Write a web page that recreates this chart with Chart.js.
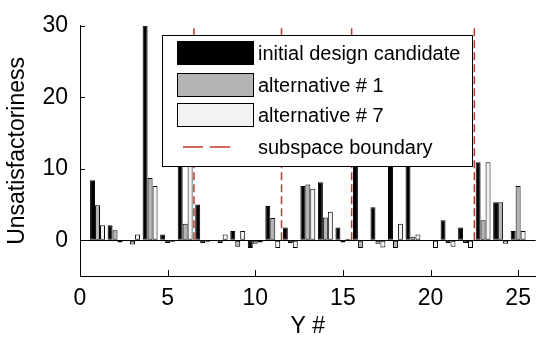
<!DOCTYPE html>
<html lang="en">
<head>
  <meta charset="UTF-8" />
  <title>Unsatisfactoriness per Y</title>
  <script src="https://cdn.jsdelivr.net/npm/chart.js"></script>
  <style>
    * { box-sizing: border-box; margin: 0; padding: 0; }
    body { background: #fff; }
    .wrap { width: 540px; height: 338px; position: relative; }
  </style>
</head>
<body>
  <div class="wrap"><canvas id="barChart"></canvas></div>

  <script>
    // values (bars hidden behind the legend are guesses > 10)
    const positions = [1, 2, 3, 4, 5, 6, 7, 8, 9, 10, 11, 12, 13, 14, 15, 16, 17, 18, 19, 20, 21, 22, 23, 24, 25];
    const initialDesign = [8.4, 2.1, 0, 30, 0.8, 13, 5.0, 0, 1.3, -1.1, 4.8, 1.8, 7.6, 8.1, 1.8, 14, 4.6, 12, 11, 0, 2.8, 1.8, 10.9, 5.3, 1.3];
    const alternative1 = [4.9, 1.4, -0.6, 8.7, -0.4, 2.3, -0.4, -0.4, -0.9, -0.5, 3.1, -0.4, 7.8, 3.2, -0.3, -1.1, -0.5, -1.1, 0.5, 0, -0.4, -0.4, 2.8, 5.3, 7.6];
    const alternative7 = [2.1, -0.3, 0.8, 7.6, -0.2, 11, -0.2, 0.8, 1.3, -0.3, -1.1, -1.1, 7.2, 4.0, 0.2, 0, -1.0, 2.3, 0.8, -1.1, -0.9, -1.1, 10.9, -0.5, 1.3];
    const boundaries = [6.5, 11.5, 15.5, 22.5];
    const xTicks = [0, 5, 10, 15, 20, 25];
    const yTicks = [0, 10, 20, 30];
    const seriesNames = ["initial design candidate", "alternative # 1", "alternative # 7", "subspace boundary"];

    const FONT = "'Liberation Sans', Arial, sans-serif";
    const RED = "#c0392b";
    Chart.defaults.font.family = FONT;
    Chart.defaults.color = "#000";

    const toPoints = vals => positions.map((x, i) => ({ x: x, y: vals[i] }));

    const barStyle = { type: "bar", borderColor: "#000", borderWidth: 1, borderSkipped: false,
                       categoryPercentage: 0.85, barPercentage: 1 };

    const datasets = [
      Object.assign({ label: seriesNames[0], data: toPoints(initialDesign), backgroundColor: "#000" }, barStyle),
      Object.assign({ label: seriesNames[1], data: toPoints(alternative1), backgroundColor: "#b4b4b4" }, barStyle),
      Object.assign({ label: seriesNames[2], data: toPoints(alternative7), backgroundColor: "#f2f2f2" }, barStyle)
    ];
    boundaries.forEach(b => {
      datasets.push({
        type: "line", label: seriesNames[3],
        data: [{ x: b, y: 0 }, { x: b, y: 30 }],
        borderColor: RED, borderWidth: 1.5, borderDash: [8, 4],
        pointRadius: 0, fill: false, order: -1
      });
    });

    // MATLAB style legend box inside the axes, drawn over the bars
    const boxLegend = {
      id: "boxLegend",
      afterDatasetsDraw(chart) {
        const ctx = chart.ctx;
        ctx.save();
        ctx.fillStyle = "#fff";
        ctx.strokeStyle = "#000";
        ctx.lineWidth = 1;
        ctx.fillRect(162.5, 35.5, 310, 131);
        ctx.strokeRect(162.5, 35.5, 310, 131);

        const fills = ["#000", "#b4b4b4", "#f2f2f2"];
        const rowsY = [53, 85, 115, 147];
        for (let i = 0; i < 3; i++) {
          ctx.fillStyle = fills[i];
          ctx.fillRect(177.5, rowsY[i] - 11.5, 76, 23);
          ctx.strokeRect(177.5, rowsY[i] - 11.5, 76, 23);
        }
        ctx.strokeStyle = RED;
        ctx.lineWidth = 1.5;
        ctx.setLineDash([20, 7]);
        ctx.beginPath();
        ctx.moveTo(183, rowsY[3]);
        ctx.lineTo(230, rowsY[3]);
        ctx.stroke();
        ctx.setLineDash([]);

        ctx.fillStyle = "#000";
        ctx.font = "20px " + FONT;
        ctx.textBaseline = "middle";
        ctx.textAlign = "left";
        seriesNames.forEach((name, i) => ctx.fillText(name, 258, rowsY[i] + 1));
        ctx.restore();
      },
      afterDraw(chart) {
        // inward tick marks
        const ctx = chart.ctx;
        const xs = chart.scales.x, ys = chart.scales.y;
        const a = chart.chartArea;
        ctx.save();
        ctx.strokeStyle = "#000";
        ctx.lineWidth = 1;
        ctx.beginPath();
        yTicks.forEach(v => {
          const py = Math.round(ys.getPixelForValue(v)) + 0.5;
          ctx.moveTo(a.left, py);
          ctx.lineTo(a.left + 5, py);
        });
        xTicks.forEach(v => {
          const px = Math.round(xs.getPixelForValue(v)) + 0.5;
          ctx.moveTo(px, a.bottom);
          ctx.lineTo(px, a.bottom - 6);
        });
        ctx.stroke();
        ctx.restore();
      }
    };

    new Chart(document.getElementById("barChart").getContext("2d"), {
      type: "bar",
      data: { datasets: datasets },
      options: {
        responsive: true,
        maintainAspectRatio: false,
        animation: false,
        devicePixelRatio: 1,
        layout: { padding: { top: 19, right: 2, left: 0, bottom: 0 } },
        plugins: { legend: { display: false }, tooltip: { enabled: false } },
        scales: {
          x: {
            type: "linear", min: 0, max: 26, offset: false,
            grid: { display: false, drawTicks: false },
            border: { display: true, color: "#000", width: 1 },
            ticks: { color: "#000", font: { size: 23 }, padding: 9, maxRotation: 0 },
            afterBuildTicks: s => { s.ticks = xTicks.map(v => ({ value: v })); },
            afterFit: s => { s.height = 62; },
            title: { display: true, text: "Y #", color: "#000", font: { size: 23, lineHeight: 1 }, padding: 0 }
          },
          y: {
            min: -5, max: 30,
            grid: {
              drawTicks: false,
              color: c => (c.tick && c.tick.value === 0) ? "#000" : "rgba(0,0,0,0)"
            },
            border: { display: true, color: "#000", width: 1 },
            ticks: { color: "#000", font: { size: 23 }, padding: 12 },
            afterBuildTicks: s => { s.ticks = yTicks.map(v => ({ value: v })); },
            afterFit: s => { s.width = 80; },
            title: { display: true, text: "Unsatisfactoriness", color: "#000", font: { size: 23, lineHeight: 1.2 }, padding: { top: 4, bottom: 0 } }
          }
        }
      },
      plugins: [boxLegend]
    });
  </script>
</body>
</html>
